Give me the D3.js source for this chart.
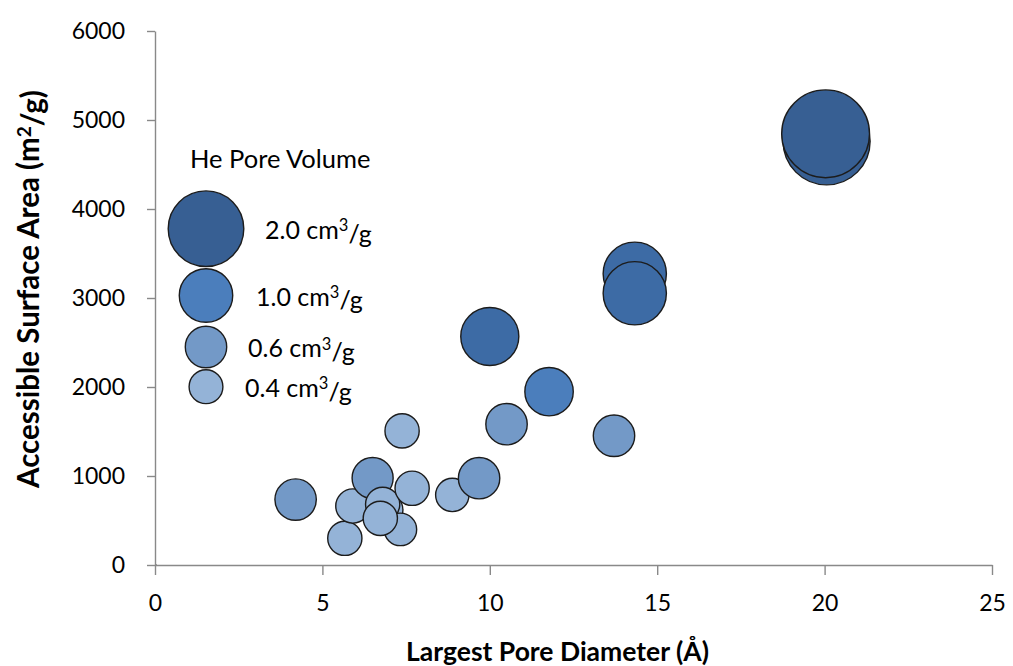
<!DOCTYPE html>
<html>
<head>
<meta charset="utf-8">
<script src="https://cdn.jsdelivr.net/npm/d3@7"></script>
<style>
  html, body { margin: 0; padding: 0; background: #fff; }
  svg { display: block; font-family: Lato, "Open Sans", sans-serif; }
</style>
</head>
<body>
<svg id="chart" width="1013" height="666"></svg>
<script>
// Largest pore diameter (Å), accessible surface area (m²/g), He pore volume (cm³/g)
// Listed in drawing order (later bubbles sit on top).
const poreDiameter = [4.2, 5.67, 5.91, 6.5, 6.9, 6.8, 7.33, 6.73, 7.68, 7.38, 8.88, 9.68, 10.5, 13.71, 11.77, 10.0, 14.33, 14.33, 20.06, 20.03];
const surfaceArea  = [735, 300, 663, 978, 618, 682, 400, 524, 862, 1507, 787, 976, 1582, 1452, 1947, 2567, 3272, 3053, 4760, 4845];
const poreVolume   = [0.60, 0.41, 0.41, 0.59, 0.40, 0.41, 0.37, 0.41, 0.41, 0.41, 0.39, 0.60, 0.60, 0.60, 0.82, 1.18, 1.40, 1.40, 2.65, 2.70];

const xTicks = [0, 5, 10, 15, 20, 25];
const yTicks = [0, 1000, 2000, 3000, 4000, 5000, 6000];

// Legend reference volumes
const legendVolumes = [2.0, 1.0, 0.6, 0.4];
const legendLabels  = ["2.0", "1.0", "0.6", "0.4"];

// Fill colour bands by pore volume
const volumeBreaks = [0.5, 0.7, 1.1, 2.0];
const volumeColors = ["#94b3d7", "#7399c7", "#4b7ebc", "#3d6ba5", "#375f93"];

const svg = d3.select("#chart");
const plot = { left: 155, right: 992, top: 31, bottom: 565 };

const x = d3.scaleLinear().domain([0, 25]).range([plot.left, plot.right]);
const y = d3.scaleLinear().domain([0, 6000]).range([plot.bottom, plot.top]);
const r = d3.scaleSqrt().domain([0, 2]).range([0, 37.8]);
const color = d3.scaleThreshold().domain(volumeBreaks).range(volumeColors);

const axisColor = "#898989";

// Y axis
const yAxis = svg.append("g")
  .attr("transform", `translate(${plot.left},0)`)
  .call(d3.axisLeft(y).tickValues(yTicks).tickSize(8).tickSizeOuter(0).tickPadding(22).tickFormat(d3.format("d")));
// X axis
const xAxis = svg.append("g")
  .attr("transform", `translate(0,${plot.bottom})`)
  .call(d3.axisBottom(x).tickValues(xTicks).tickSize(10).tickSizeOuter(0).tickPadding(20).tickFormat(d3.format("d")));

[yAxis, xAxis].forEach(g => {
  g.select(".domain").attr("stroke", axisColor).attr("stroke-width", 1.4);
  g.selectAll(".tick line").attr("stroke", axisColor).attr("stroke-width", 1.4);
  g.selectAll(".tick text").attr("fill", "#000").style("font-size", "23px").style("font-family", "Lato, sans-serif");
});
svg.append("line")
  .attr("x1", plot.left).attr("x2", plot.left + 2)
  .attr("y1", plot.bottom).attr("y2", plot.bottom)
  .attr("stroke", axisColor).attr("stroke-width", 1.4);

// Bubbles
const data = poreDiameter.map((d, i) => ({ d, a: surfaceArea[i], v: poreVolume[i] }));
svg.append("g").selectAll("circle")
  .data(data)
  .join("circle")
  .attr("cx", p => x(p.d))
  .attr("cy", p => y(p.a))
  .attr("r", p => r(p.v))
  .attr("fill", p => color(p.v))
  .attr("stroke", "#1c1c1c")
  .attr("stroke-width", 1.4);

// Legend
const legend = svg.append("g");
legend.append("text")
  .attr("x", 190).attr("y", 168)
  .style("font-size", "25.5px")
  .text("He Pore Volume");

const legendCircleY = [228.7, 295.5, 347, 386.7];
const legendLabelX  = [265, 256, 248, 245];
legendVolumes.forEach((v, i) => {
  legend.append("circle")
    .attr("cx", 206).attr("cy", legendCircleY[i])
    .attr("r", r(v))
    .attr("fill", color(v))
    .attr("stroke", "#1c1c1c")
    .attr("stroke-width", 1.4);
  const t = legend.append("text")
    .attr("x", legendLabelX[i]).attr("y", legendCircleY[i] + 10)
    .style("font-size", "25px");
  t.append("tspan").text(legendLabels[i] + " cm");
  t.append("tspan").attr("dy", "-0.45em").style("font-size", "16.5px").text("3");
  t.append("tspan").attr("dy", "0.45em").text("/g");
});

// Axis titles
svg.append("text")
  .attr("x", (plot.left + plot.right) / 2 - 16).attr("y", 661)
  .attr("text-anchor", "middle")
  .style("font-size", "26.5px").style("font-weight", "bold")
  .text("Largest Pore Diameter (Å)");

const yt = svg.append("text")
  .attr("transform", "translate(39,289) rotate(-90)")
  .attr("text-anchor", "middle")
  .style("font-size", "29.5px").style("font-weight", "bold");
yt.append("tspan").text("Accessible Surface Area (m");
yt.append("tspan").attr("dy", "-0.42em").style("font-size", "19px").text("2");
yt.append("tspan").attr("dy", "0.42em").text("/g)");
</script>
</body>
</html>
